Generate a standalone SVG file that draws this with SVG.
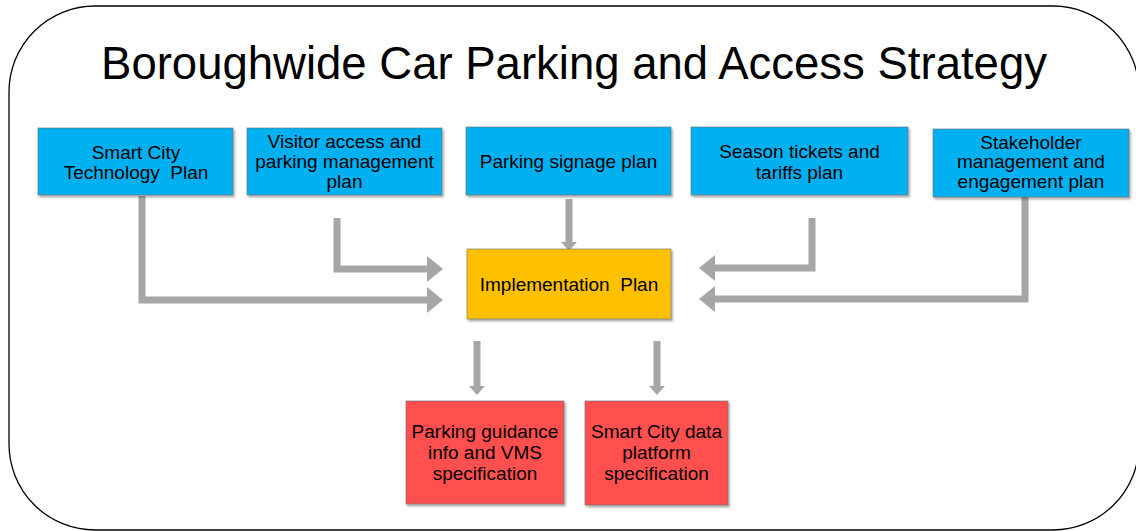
<svg xmlns="http://www.w3.org/2000/svg" width="1136" height="531" viewBox="0 0 1136 531">
<style>
.t{font-family:"Liberation Sans",Arial,sans-serif;fill:#000;text-anchor:middle}
.bt{font-size:19px}
.blue{fill:#00B0F0}
.orange{fill:#FFC000}
.red{fill:#FF5050}
.box{stroke:#6b6b6b;stroke-opacity:0.6;stroke-width:1;filter:url(#sh)}
.c{fill:none;stroke:#A6A6A6;stroke-width:7;stroke-linejoin:miter}
</style>
<defs>
<filter id="sh" x="-10%" y="-10%" width="130%" height="130%">
<feDropShadow dx="1.5" dy="2" stdDeviation="1.2" flood-color="#000" flood-opacity="0.35"/>
</filter>
<marker id="big" markerUnits="userSpaceOnUse" viewBox="0 0 16 26" refX="0" refY="13" markerWidth="16" markerHeight="26" orient="auto">
<path d="M0,0 L16,13 L0,26 z" fill="#A6A6A6"/>
</marker>
<marker id="sm" markerUnits="userSpaceOnUse" viewBox="0 0 9 16" refX="0" refY="8" markerWidth="9" markerHeight="16" orient="auto">
<path d="M0,0 L9,8 L0,16 z" fill="#A6A6A6"/>
</marker>
</defs>
<rect x="9" y="6" width="1130" height="524" rx="86" ry="86" fill="#fff" stroke="#000" stroke-width="1.3"/>
<text class="t" x="574" y="79" font-size="45.5">Boroughwide Car Parking and Access Strategy</text>
<g id="connectors">
<path class="c" d="M142,196 V300 H427" marker-end="url(#big)"/>
<path class="c" d="M337,218 V269 H427" marker-end="url(#big)"/>
<path class="c" d="M569,199 V242" marker-end="url(#sm)"/>
<path class="c" d="M812,218 V268 H715" marker-end="url(#big)"/>
<path class="c" d="M1025,197 V299 H715" marker-end="url(#big)"/>
<path class="c" d="M477,341 V386" marker-end="url(#sm)"/>
<path class="c" d="M657,341 V386" marker-end="url(#sm)"/>
</g>
<g id="smart-city-tech">
<rect class="box blue" x="38" y="128" width="195" height="67"/>
<text class="t bt" x="136" y="159" xml:space="preserve">Smart City</text>
<text class="t bt" x="136" y="179" xml:space="preserve">Technology  Plan</text>
</g>
<g id="visitor-access">
<rect class="box blue" x="247" y="128" width="195" height="67"/>
<text class="t bt" x="344.5" y="148">Visitor access and</text>
<text class="t bt" x="344.5" y="168">parking management</text>
<text class="t bt" x="344.5" y="188">plan</text>
</g>
<g id="parking-signage">
<rect class="box blue" x="466" y="127" width="205" height="68"/>
<text class="t bt" x="568.5" y="168">Parking signage plan</text>
</g>
<g id="season-tickets">
<rect class="box blue" x="691" y="127" width="217" height="68"/>
<text class="t bt" x="799.5" y="158">Season tickets and</text>
<text class="t bt" x="799.5" y="179">tariffs plan</text>
</g>
<g id="stakeholder">
<rect class="box blue" x="933" y="129" width="196" height="68"/>
<text class="t bt" x="1031" y="149">Stakeholder</text>
<text class="t bt" x="1031" y="168">management and</text>
<text class="t bt" x="1031" y="188">engagement plan</text>
</g>
<g id="implementation">
<rect class="box orange" x="467" y="249" width="204" height="70"/>
<text class="t bt" x="569" y="291" xml:space="preserve">Implementation  Plan</text>
</g>
<g id="parking-guidance">
<rect class="box red" x="406" y="401" width="158" height="103"/>
<text class="t bt" x="485" y="438">Parking guidance</text>
<text class="t bt" x="485" y="459">info and VMS</text>
<text class="t bt" x="485" y="480">specification</text>
</g>
<g id="data-platform">
<rect class="box red" x="585" y="401" width="143" height="104"/>
<text class="t bt" x="656.5" y="438">Smart City data</text>
<text class="t bt" x="656.5" y="459">platform</text>
<text class="t bt" x="656.5" y="480">specification</text>
</g>
</svg>
